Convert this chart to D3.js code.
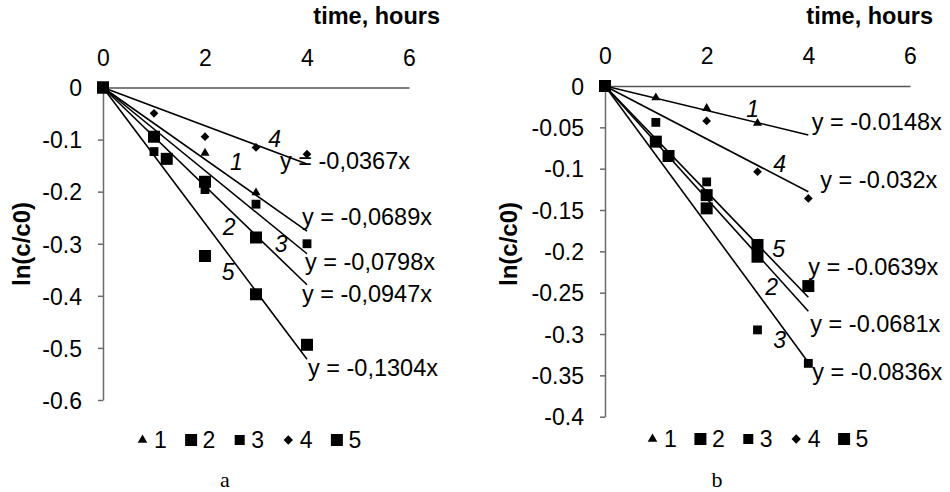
<!DOCTYPE html>
<html>
<head>
<meta charset="utf-8">
<script src="https://cdn.jsdelivr.net/npm/d3@7"></script>
<style>
  html, body { margin: 0; padding: 0; background: #fff; }
  svg { display: block; font-family: "Liberation Sans", Arial, sans-serif; }
</style>
</head>
<body>
<svg id="chart" width="950" height="492"></svg>
<script>
// ---- data -------------------------------------------------------------
const seriesNames = ["1", "2", "3", "4", "5"];
const xTicks = [0, 2, 4, 6];
const yTicksA = [0, -0.1, -0.2, -0.3, -0.4, -0.5, -0.6];
const yTicksB = [0, -0.05, -0.1, -0.15, -0.2, -0.25, -0.3, -0.35, -0.4];

// panel a: ln(c/c0) vs time, one array per series
const pointsA1 = [[0, 0], [2, -0.126], [3, -0.202]];
const pointsA2 = [[0, 0], [1, -0.0945], [2, -0.181], [3, -0.288]];
const pointsA3 = [[0, 0], [1, -0.123], [2, -0.196], [3, -0.224], [4, -0.30]];
const pointsA4 = [[0, 0], [1, -0.0495], [2, -0.0945], [3, -0.115], [4, -0.128]];
const pointsA5 = [[0, 0], [1.25, -0.137], [2, -0.3235], [3, -0.397], [4, -0.494]];
const slopesA = [-0.0689, -0.0947, -0.0798, -0.0367, -0.1304];

// panel b
const pointsB1 = [[0, 0], [1, -0.0142], [2, -0.027], [3, -0.045]];
const pointsB2 = [[0, 0], [1, -0.0673], [2, -0.132], [3, -0.2065]];
const pointsB3 = [[0, 0], [1, -0.044], [2, -0.116], [3, -0.295], [4, -0.3355]];
const pointsB4 = [[0, 0], [2, -0.0423], [3, -0.1037], [4, -0.136]];
const pointsB5 = [[0, 0], [1.25, -0.0847], [2, -0.148], [3, -0.1923], [4, -0.242]];
const slopesB = [-0.0148, -0.0681, -0.0836, -0.032, -0.0639];

const fitEnd = 4; // trend lines run from t = 0 to t = 4

// ---- layout ------------------------------------------------------------
const svg = d3.select("#chart");
const FONT = 23;

// marker shapes per series: triangle, big square, small square, diamond, big square
const markerDefs = [
  { type: d3.symbolTriangle, size: 36, rot: 0 },
  { type: d3.symbolSquare, size: 144, rot: 0 },
  { type: d3.symbolSquare, size: 78, rot: 0 },
  { type: d3.symbolSquare, size: 38, rot: 45 },
  { type: d3.symbolSquare, size: 144, rot: 0 }
];
const legendMarkerDefs = [
  { type: d3.symbolTriangle, size: 40, rot: 0 },
  { type: d3.symbolSquare, size: 144, rot: 0 },
  { type: d3.symbolSquare, size: 100, rot: 0 },
  { type: d3.symbolSquare, size: 44, rot: 45 },
  { type: d3.symbolSquare, size: 144, rot: 0 }
];

function eqText(slope, sep) {
  return "y = " + String(slope).replace(".", sep) + "x";
}

function drawPanel(cfg) {
  const g = svg.append("g");
  const x = d3.scaleLinear().domain([0, 6]).range(cfg.xRange);
  const y = d3.scaleLinear().domain([0, cfg.yMin]).range(cfg.yRange);

  // vertical axis with ticks on the left
  const yAxis = d3.axisLeft(y).tickValues(cfg.yTicks).tickSize(5).tickSizeOuter(0)
    .tickFormat(v => String(v)).tickPadding(16);
  const ya = g.append("g").attr("transform", `translate(${x(0)},0)`).call(yAxis);
  ya.select(".domain").attr("stroke", "#6b6b6b").attr("stroke-width", 1.5);
  ya.selectAll(".tick line").attr("stroke", "#6b6b6b").attr("stroke-width", 1.5);
  ya.selectAll(".tick text").attr("font-size", FONT).attr("fill", "#000")
    .attr("font-family", "Liberation Sans, Arial, sans-serif").attr("dy", "0.36em");

  // horizontal axis at y = 0, labels above, no ticks
  const xAxis = d3.axisTop(x).tickValues(xTicks).tickSize(0).tickPadding(22)
    .tickFormat(v => String(v));
  const xa = g.append("g").attr("transform", `translate(0,${y(0)})`).call(xAxis);
  xa.select(".domain").attr("stroke", "#555").attr("stroke-width", 1.3);
  xa.selectAll(".tick text").attr("font-size", FONT).attr("fill", "#000")
    .attr("font-family", "Liberation Sans, Arial, sans-serif");

  // axis titles
  g.append("text").attr("x", cfg.titleX).attr("y", 24).attr("text-anchor", "end")
    .attr("font-size", 23.5).attr("font-weight", "bold").text("time, hours");
  g.append("text")
    .attr("transform", `translate(${cfg.yTitleX},244) rotate(-90)`)
    .attr("text-anchor", "middle").attr("dy", "0.35em")
    .attr("font-size", 24).attr("font-weight", "bold").text("ln(c/c0)");

  // data markers
  cfg.points.forEach((pts, i) => {
    const m = markerDefs[i];
    g.append("g").selectAll("path").data(pts).join("path")
      .attr("d", d3.symbol().type(m.type).size(m.size))
      .attr("transform", d => `translate(${x(d[0])},${y(d[1])}) rotate(${m.rot})`)
      .attr("fill", "#000");
  });

  // linear trend lines through the origin
  const line = d3.line().x(d => x(d[0])).y(d => y(d[1]));
  cfg.slopes.forEach(s => {
    g.append("path").datum([[0, 0], [fitEnd, s * fitEnd]])
      .attr("d", line).attr("stroke", "#000").attr("stroke-width", 1.6).attr("fill", "none");
  });

  // equation labels near the end of each trend line
  cfg.slopes.forEach((s, i) => {
    const off = cfg.eqOffsets[i];
    g.append("text")
      .attr("x", x(fitEnd) + off[0]).attr("y", y(s * fitEnd) + off[1])
      .attr("font-size", 23.5).text(eqText(s, cfg.sep));
  });

  // series numbers along the lines
  cfg.numPos.forEach((p, i) => {
    g.append("text").attr("x", x(p[0])).attr("y", y(p[1]))
      .attr("font-size", FONT).attr("font-style", "italic").text(seriesNames[i]);
  });

  // legend
  seriesNames.forEach((name, i) => {
    const cx = cfg.legendX + i * cfg.legendStep;
    const m = legendMarkerDefs[i];
    g.append("path").attr("d", d3.symbol().type(m.type).size(m.size)())
      .attr("transform", `translate(${cx},${cfg.legendY}) rotate(${m.rot})`)
      .attr("fill", "#000");
    g.append("text").attr("x", cx + 11.5).attr("y", cfg.legendY + 8)
      .attr("font-size", FONT).text(name);
  });

  // panel letter
  g.append("text").attr("x", cfg.letterX).attr("y", 487).attr("text-anchor", "middle")
    .attr("font-family", "Liberation Serif, Times New Roman, serif").attr("font-size", 22)
    .text(cfg.letter);
}

drawPanel({
  xRange: [103, 409], yRange: [87.5, 400], yMin: -0.6, yTicks: yTicksA,
  points: [pointsA1, pointsA2, pointsA3, pointsA4, pointsA5],
  slopes: slopesA, sep: ",",
  eqOffsets: [[-5, -6], [-5, 17], [-2, 16], [-27, 5], [1, 17]],
  numPos: [[2.49, -0.158], [2.35, -0.283], [3.37, -0.316], [3.24, -0.114], [2.33, -0.370]],
  titleX: 440, yTitleX: 22,
  legendX: 142.5, legendStep: 48.6, legendY: 440,
  letter: "a", letterX: 225
});

drawPanel({
  xRange: [605, 910], yRange: [86, 416.7], yMin: -0.4, yTicks: yTicksB,
  points: [pointsB1, pointsB2, pointsB3, pointsB4, pointsB5],
  slopes: slopesB, sep: ".",
  eqOffsets: [[3.5, -5], [2, 20.5], [4, 17.5], [12, -3.5], [0, -22]],
  numPos: [[2.78, -0.0375], [3.15, -0.253], [3.31, -0.317], [3.31, -0.104], [3.29, -0.207]],
  titleX: 933, yTitleX: 509,
  legendX: 652.5, legendStep: 47.9, legendY: 439,
  letter: "b", letterX: 717
});
</script>
</body>
</html>
